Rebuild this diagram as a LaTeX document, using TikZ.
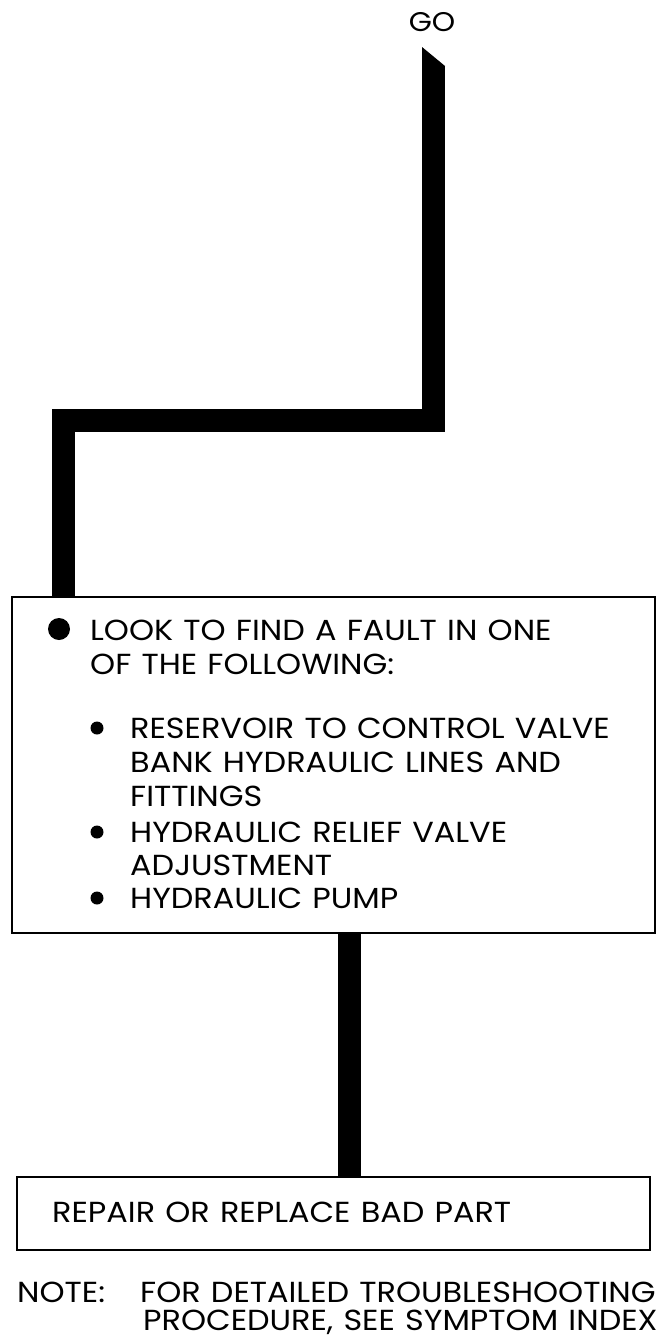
\documentclass[tikz,border=0pt]{standalone}
\usepackage{fontspec}
\setmainfont[FakeStretch=1.1,WordSpace=1.2]{Poppins}
\usepackage{tikz}
\usetikzlibrary{positioning,calc}

\begin{document}
\begin{tikzpicture}[x=1pt,y=-1pt,
    pipe/.style={line width=23pt,line join=miter},
    panel/.style={draw,line width=1.6pt,inner sep=0pt},
    txt/.style={anchor=base west,inner sep=0pt,text depth=3pt,font=\fontsize{29}{33}\selectfont}]
    \useasboundingbox (0,0) rectangle (665,1341);

    % start
    \node[inner sep=0pt,font=\fontsize{27}{30}\selectfont] (go) at (432,22) {GO};
    \coordinate (start) at (433.5,66);
    \coordinate (bend) at (63.5,420);

    % check box
    \node[panel,minimum width=643pt,minimum height=336pt] (check) at (333.5,765) {};
    \fill (59,629) circle (11);
    \node[txt] (l1) at (90,640) {LOOK TO FIND A FAULT IN ONE};
    \node[txt] (l2) at (90,674) {OF THE FOLLOWING:};
    \foreach \y in {728,832,898} \fill (97,\y) circle (6.5);
    \node[txt] (a1) at (130,738) {RESERVOIR TO CONTROL VALVE};
    \node[txt] (a2) at (130,772) {BANK HYDRAULIC LINES AND};
    \node[txt] (a3) at (130,806) {FITTINGS};
    \node[txt] (b1) at (130,842) {HYDRAULIC RELIEF VALVE};
    \node[txt] (b2) at (130,875) {ADJUSTMENT};
    \node[txt] (c1) at (130,908) {HYDRAULIC PUMP};

    % repair box
    \node[panel,minimum width=633pt,minimum height=73pt] (fix) at (333.5,1213.5) {};
    \node[txt] (fixtext) at (52,1222) {REPAIR OR REPLACE BAD PART};

    % note
    \node[txt] (note) at (17,1302) {NOTE:};
    \node[txt] (n1) at (140,1302) {FOR DETAILED TROUBLESHOOTING};
    \node[txt] (n2) at (143,1330) {PROCEDURE, SEE SYMPTOM INDEX};

    % connectors
    \fill (422,47) -- (445,66) -- (422,66) -- cycle;
    \draw[pipe] (start) -- (start |- bend) -- (bend) -- (bend |- check.north);
    \draw[pipe] ([xshift=15.5pt]check.south) -- ([xshift=15.5pt]fix.north);
\end{tikzpicture}
\end{document}
